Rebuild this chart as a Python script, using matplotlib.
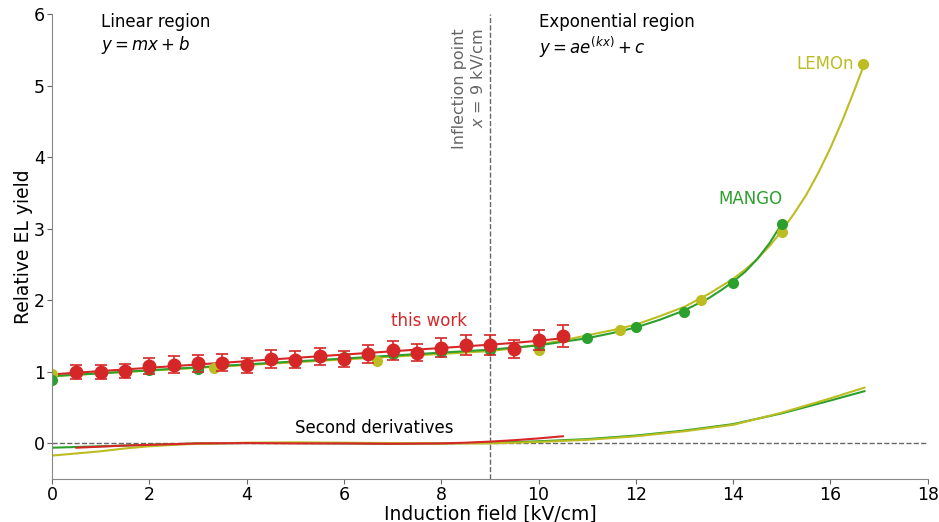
import numpy as np
import matplotlib
matplotlib.use("Agg")
import matplotlib.pyplot as plt

# measured points
work_x = [0.5, 1.0, 1.5, 2.0, 2.5, 3.0, 3.5, 4.0, 4.5, 5.0, 5.5,
          6.0, 6.5, 7.0, 7.5, 8.0, 8.5, 9.0, 9.5, 10.0, 10.5]
work_y = [1.00, 1.00, 1.01, 1.08, 1.10, 1.12, 1.13, 1.09, 1.18, 1.17, 1.22,
          1.18, 1.25, 1.30, 1.27, 1.34, 1.37, 1.37, 1.32, 1.44, 1.50]
work_err = [0.10, 0.10, 0.10, 0.11, 0.12, 0.12, 0.12, 0.11, 0.12, 0.12, 0.12,
            0.11, 0.13, 0.13, 0.12, 0.13, 0.14, 0.14, 0.13, 0.14, 0.15]

mango_x = [0, 1, 2, 3, 4, 5, 6, 7, 8, 9, 10, 11, 12, 13, 14, 15]
mango_y = [0.88, 0.98, 1.02, 1.04, 1.09, 1.14, 1.21, 1.25, 1.28, 1.30,
           1.37, 1.48, 1.63, 1.83, 2.24, 3.07]

lemon_x = [0.0, 3.33, 6.67, 10.0, 11.67, 13.33, 15.0, 16.67]
lemon_y = [0.97, 1.06, 1.15, 1.31, 1.59, 2.01, 2.96, 5.30]

# fitted curves
work_fit_x = [0, 9, 9.5, 10, 10.5]
work_fit_y = [0.965, 1.38, 1.405, 1.435, 1.47]

mango_fit_x = [0, 9, 10, 11, 11.5, 12, 12.5, 13, 13.5, 13.75, 14, 14.25, 14.5, 14.75, 15]
mango_fit_y = [0.94, 1.31, 1.37, 1.47, 1.54, 1.62, 1.73, 1.86, 2.03, 2.14, 2.26, 2.40,
               2.58, 2.80, 3.07]

lemon_fit_x = [0, 9, 9.5, 10, 10.5, 11, 11.5, 12, 12.5, 13, 13.5, 14, 14.25,
               14.5, 14.75, 15, 15.25, 15.5, 15.75, 16, 16.25, 16.5, 16.7]
lemon_fit_y = [0.94, 1.29, 1.33, 1.38, 1.44, 1.51, 1.58, 1.66, 1.78, 1.91, 2.09, 2.30, 2.43,
               2.58, 2.76, 2.97, 3.21, 3.47, 3.78, 4.13, 4.52, 4.95, 5.31]

# second derivatives
d2_work_x = [0.5, 1, 1.5, 2, 2.5, 3, 4, 5, 6, 7, 8, 8.5, 9, 9.5, 10, 10.5]
d2_work_y = [-0.06, -0.045, -0.03, -0.02, -0.01, 0.0, 0.005, 0.0, 0.0, -0.005,
             0.0, 0.01, 0.025, 0.045, 0.07, 0.10]
d2_mango_x = [0, 0.5, 1, 2, 3, 4, 5, 6, 7, 8, 9, 10, 11, 12, 13, 14, 15, 16, 16.7]
d2_mango_y = [-0.06, -0.05, -0.04, -0.02, 0.0, 0.005, 0.005, 0.0, -0.005, 0.0,
              0.01, 0.03, 0.06, 0.11, 0.18, 0.27, 0.42, 0.60, 0.73]
d2_lemon_x = [0, 0.5, 1, 1.5, 2, 2.5, 3, 4, 5, 6, 7, 8, 9, 10, 11, 12, 13, 14, 15, 16, 16.7]
d2_lemon_y = [-0.17, -0.14, -0.11, -0.07, -0.04, -0.02, -0.005, 0.01, 0.015, 0.01,
              0.005, 0.0, 0.0, 0.02, 0.05, 0.10, 0.17, 0.26, 0.43, 0.63, 0.78]

red = "#d62728"
green = "#2ca02c"
olive = "#bcbd22"
grey = "#666666"

fig, ax = plt.subplots(figsize=(9.39, 5.22), dpi=100)
fig.subplots_adjust(left=0.0554, right=0.988, top=0.973, bottom=0.082)

ax.axhline(0, color=grey, ls="--", lw=1)
ax.axvline(9, color=grey, ls="--", lw=1)

ax.plot(lemon_fit_x, lemon_fit_y, color=olive, lw=1.5)
ax.plot(mango_fit_x, mango_fit_y, color=green, lw=1.5)
ax.plot(work_fit_x, work_fit_y, color=red, lw=1.5)

ax.plot(lemon_x, lemon_y, "o", color=olive, ms=7)
ax.plot(mango_x, mango_y, "o", color=green, ms=7)
ax.errorbar(work_x, work_y, yerr=work_err, fmt="o", color=red, ms=9,
            capsize=4, elinewidth=1.2, capthick=1.2, zorder=5)

ax.plot(d2_mango_x, d2_mango_y, color=green, lw=1.5)
ax.plot(d2_lemon_x, d2_lemon_y, color=olive, lw=1.5)
ax.plot(d2_work_x, d2_work_y, color=red, lw=1.5)

ax.text(1.0, 6.02, "Linear region\n$y = mx + b$", fontsize=12, va="top")
ax.text(10.0, 6.02, "Exponential region\n$y = ae^{(kx)} + c$", fontsize=12, va="top")
ax.text(8.93, 5.8, "Inflection point\n$x$ = 9 kV/cm", fontsize=11.5, color=grey,
        rotation=90, ha="right", va="top", multialignment="right")
ax.text(7.75, 1.71, "this work", color=red, fontsize=12, ha="center", va="center")
ax.text(13.7, 3.41, "MANGO", color=green, fontsize=12, va="center")
ax.text(15.3, 5.3, "LEMOn", color=olive, fontsize=12, va="center")
ax.text(5.0, 0.21, "Second derivatives", fontsize=12, va="center")

ax.set_xlim(0, 18)
ax.set_ylim(-0.5, 6)
ax.set_xticks(np.arange(0, 19, 2))
ax.set_yticks(np.arange(0, 7, 1))
ax.set_xlabel("Induction field [kV/cm]", fontsize=13.5, labelpad=0)
ax.set_ylabel("Relative EL yield", fontsize=13.5, labelpad=1)
ax.tick_params(labelsize=12.5, color=grey, length=3.5, pad=1.5)
for side in ("top", "right"):
    ax.spines[side].set_visible(False)
for side in ("left", "bottom"):
    ax.spines[side].set_color("#888888")

fig.savefig("out.png", dpi=100)
